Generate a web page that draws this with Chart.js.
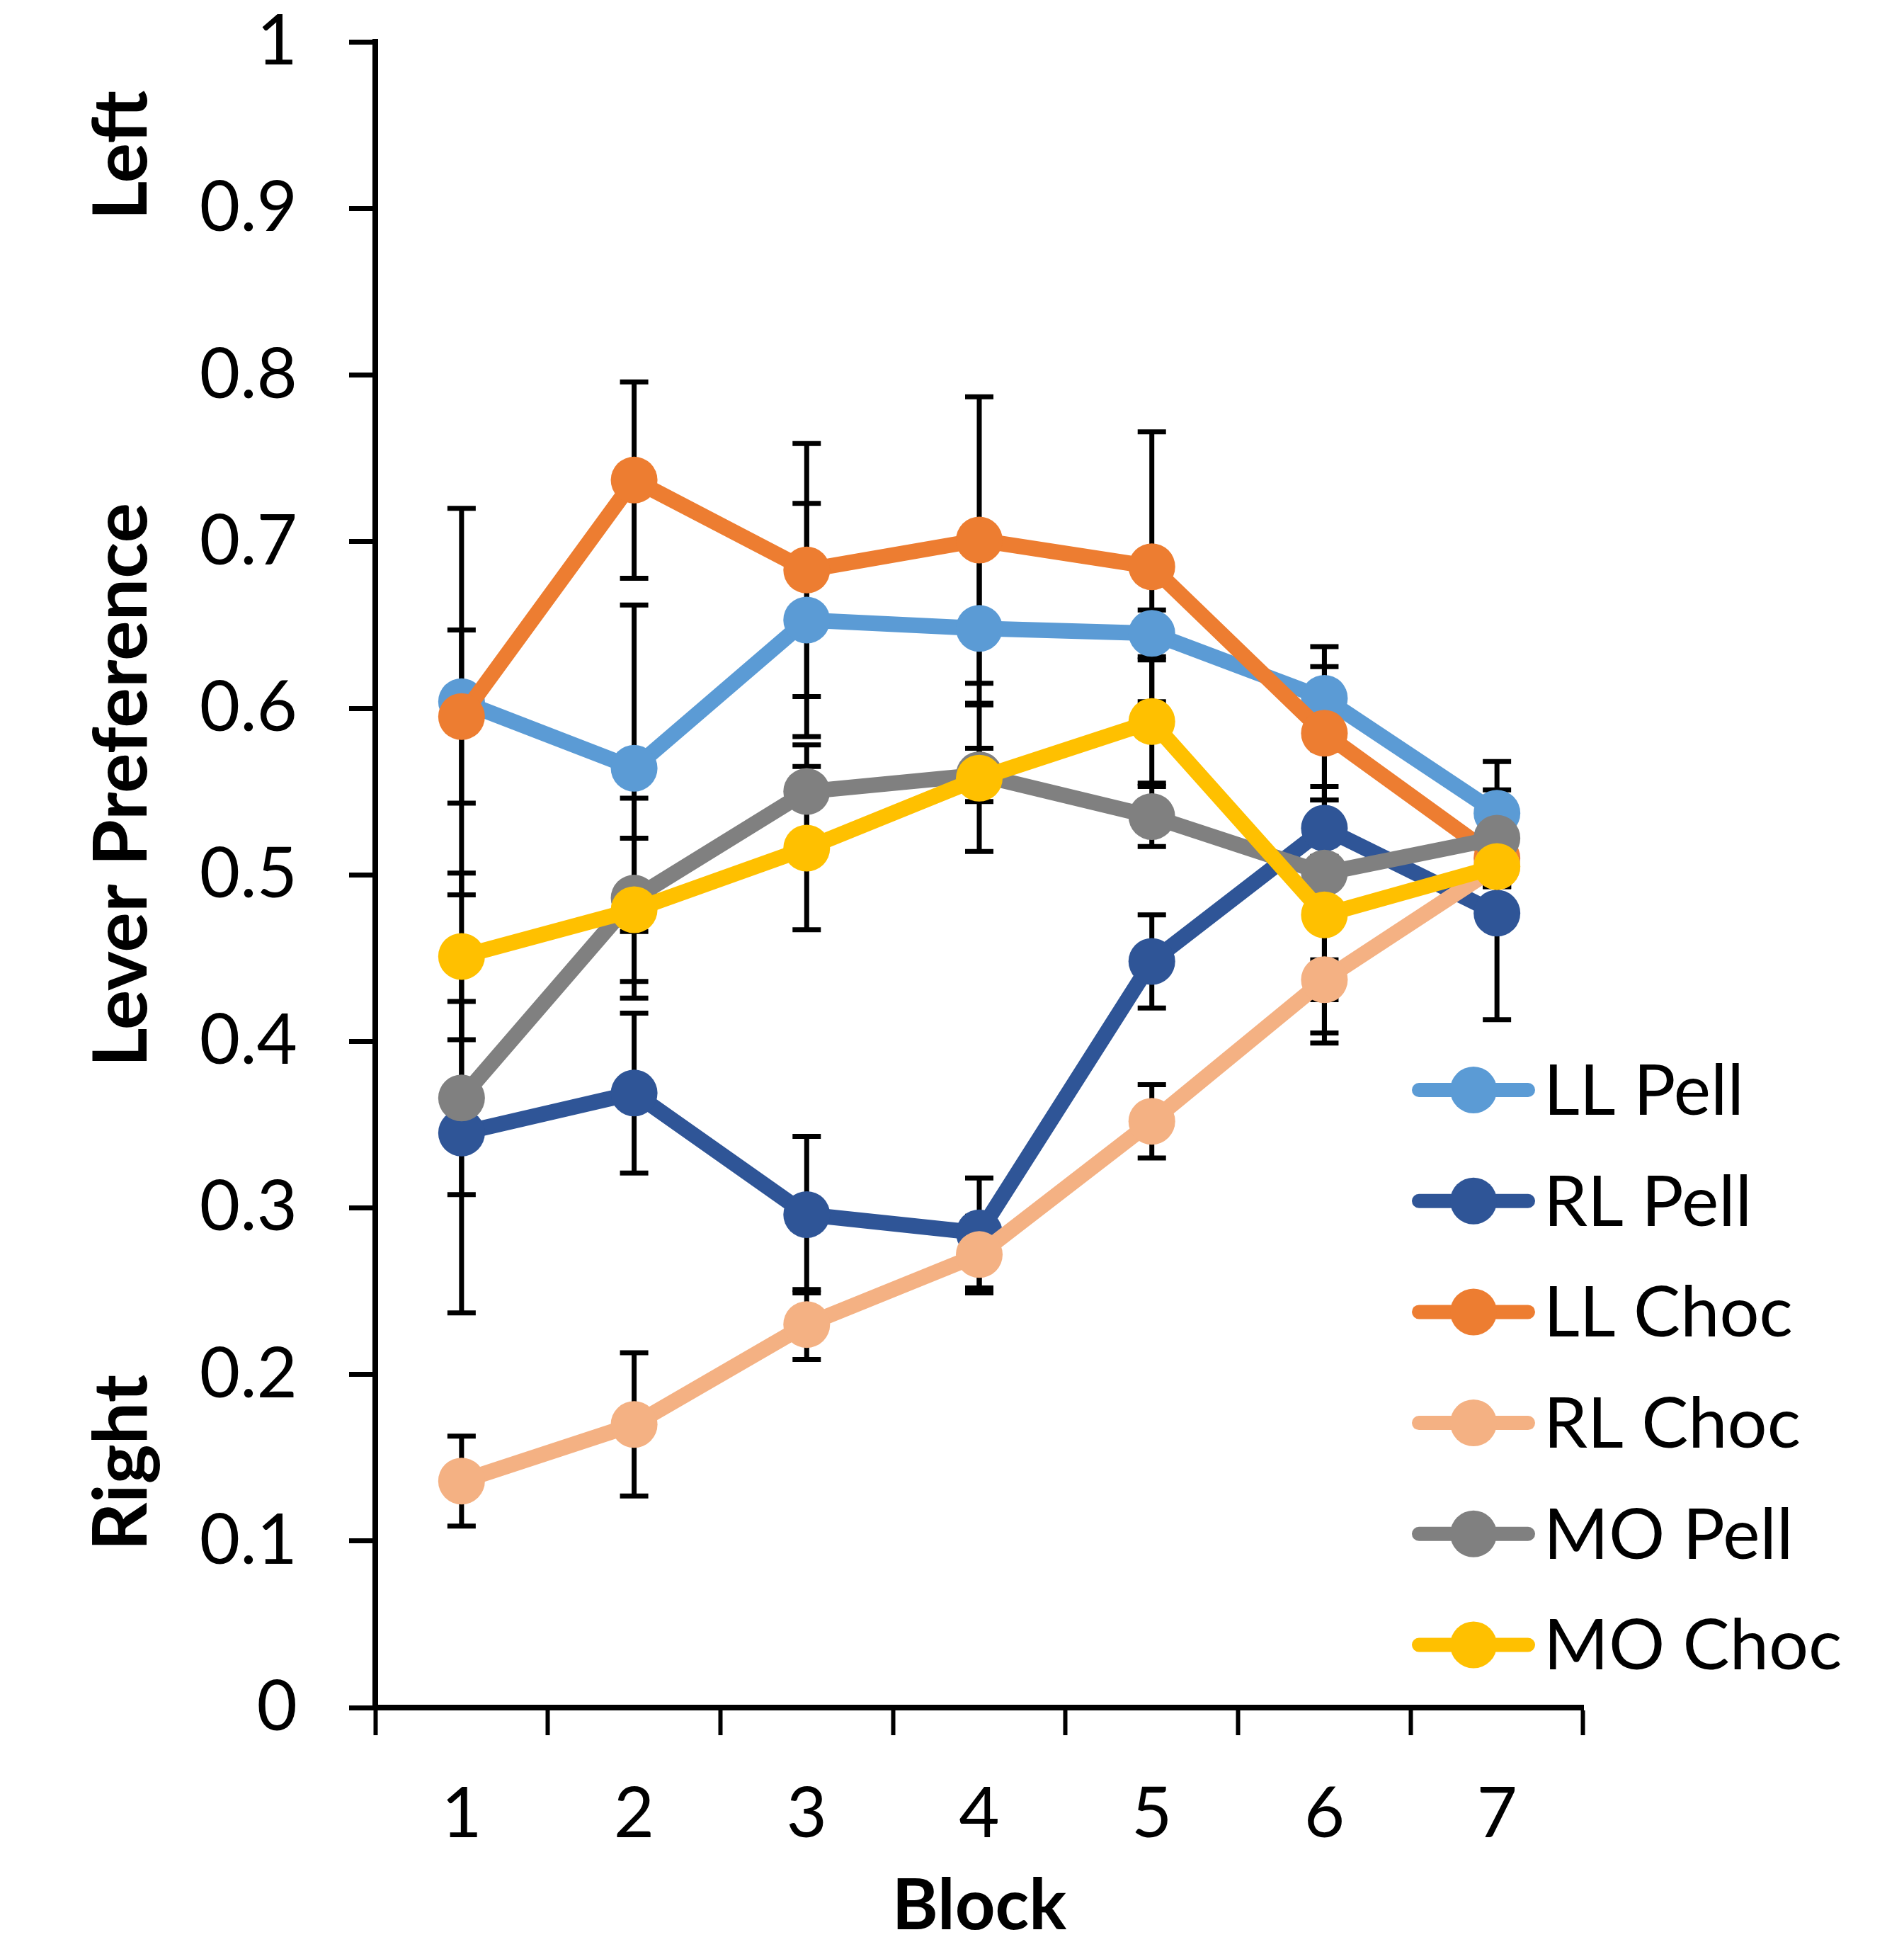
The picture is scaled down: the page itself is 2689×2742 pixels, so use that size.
<!DOCTYPE html>
<html>
<head>
<meta charset="utf-8">
<script src="https://cdn.jsdelivr.net/npm/chart.js@4.4.1/dist/chart.umd.min.js"></script>
<style>
  html, body { margin: 0; padding: 0; background: #ffffff; }
  #wrap { width: 2689px; height: 2742px; }
</style>
</head>
<body>
<div id="wrap"><canvas id="prefChart" width="2689" height="2742"></canvas></div>
<script>
// Categories and tick labels
const blocks = ["1", "2", "3", "4", "5", "6", "7"];
const yTickLabels = ["0", "0.1", "0.2", "0.3", "0.4", "0.5", "0.6", "0.7", "0.8", "0.9", "1"];
const seriesNames = ["LL Pell", "RL Pell", "LL Choc", "RL Choc", "MO Pell", "MO Choc"];

// Series means
const llPell = [0.604, 0.564, 0.653, 0.648, 0.645, 0.606, 0.537];
const rlPell = [0.345, 0.369, 0.296, 0.285, 0.448, 0.528, 0.477];
const llChoc = [0.595, 0.737, 0.683, 0.701, 0.685, 0.585, 0.510];
const rlChoc = [0.136, 0.170, 0.230, 0.272, 0.352, 0.437, 0.505];
const moPell = [0.366, 0.486, 0.550, 0.560, 0.535, 0.501, 0.522];
const moChoc = [0.451, 0.479, 0.516, 0.558, 0.592, 0.476, 0.505];

// Error bar half-widths
const llPellErr = [0.116, 0.098, 0.070, 0.045, 0.014, 0.031, 0.031];
const rlPellErr = [0.108, 0.048, 0.047, 0.033, 0.028, 0.017, 0.064];
const llChocErr = [0.052, 0.059, 0.076, 0.086, 0.081, 0.040, 0.012];
const rlChocErr = [0.027, 0.043, 0.021, 0.023, 0.022, 0.012, 0.012];
const moPellErr = [0.058, 0.060, 0.028, 0.016, 0.018, 0.096, 0.029];
const moChocErr = [0.050, 0.043, 0.049, 0.044, 0.037, 0.077, 0.012];

const seriesValues = [llPell, rlPell, llChoc, rlChoc, moPell, moChoc];
const seriesErrors = [llPellErr, rlPellErr, llChocErr, rlChocErr, moPellErr, moChocErr];
const seriesColors = ["#5B9BD5", "#2F5597", "#ED7D31", "#F4B183", "#808080", "#FFC000"];

const FONT = "Lato";
const FONT_SIZE = 99;

// Error bars, drawn behind the lines
const errorBarPlugin = {
  id: "errorBars",
  beforeDatasetsDraw(chart) {
    const ctx = chart.ctx;
    const yScale = chart.scales.y;
    ctx.save();
    ctx.strokeStyle = "#000000";
    ctx.lineWidth = 7;
    ctx.lineCap = "butt";
    seriesErrors.forEach((errs, i) => {
      const meta = chart.getDatasetMeta(i);
      meta.data.forEach((pt, j) => {
        const v = seriesValues[i][j];
        const yTop = yScale.getPixelForValue(v + errs[j]);
        const yBot = yScale.getPixelForValue(v - errs[j]);
        ctx.beginPath();
        ctx.moveTo(pt.x, yTop);
        ctx.lineTo(pt.x, yBot);
        ctx.moveTo(pt.x - 20, yTop);
        ctx.lineTo(pt.x + 20, yTop);
        ctx.moveTo(pt.x - 20, yBot);
        ctx.lineTo(pt.x + 20, yBot);
        ctx.stroke();
      });
    });
    ctx.restore();
  },
};

// Rotated side labels and the legend inside the plot
const extrasPlugin = {
  id: "extras",
  afterDraw(chart) {
    const ctx = chart.ctx;
    const yScale = chart.scales.y;

    ctx.save();
    ctx.fillStyle = "#000000";
    ctx.font = "bold 106px " + FONT;
    ctx.textAlign = "center";
    ctx.textBaseline = "alphabetic";
    [
      ["Left", 0.932],
      ["Lever Preference", 0.554],
      ["Right", 0.147],
    ].forEach(([txt, v]) => {
      ctx.save();
      ctx.translate(207, yScale.getPixelForValue(v));
      ctx.rotate(-Math.PI / 2);
      ctx.fillText(txt, 0, 0);
      ctx.restore();
    });
    ctx.restore();

    // Legend
    ctx.save();
    ctx.font = FONT_SIZE + "px " + FONT;
    ctx.textAlign = "left";
    ctx.textBaseline = "middle";
    seriesNames.forEach((name, i) => {
      const rowY = 1539 + i * 156.7;
      ctx.strokeStyle = seriesColors[i];
      ctx.lineWidth = 20;
      ctx.lineCap = "round";
      ctx.beginPath();
      ctx.moveTo(2004, rowY);
      ctx.lineTo(2158, rowY);
      ctx.stroke();
      ctx.fillStyle = seriesColors[i];
      ctx.beginPath();
      ctx.arc(2081, rowY, 33, 0, Math.PI * 2);
      ctx.fill();
      ctx.fillStyle = "#000000";
      ctx.fillText(name, 2180, rowY + 3);
    });
    ctx.restore();
  },
};

const datasets = seriesNames.map((name, i) => ({
  label: name,
  data: seriesValues[i],
  borderColor: seriesColors[i],
  backgroundColor: seriesColors[i],
  borderWidth: 22,
  borderJoinStyle: "round",
  borderCapStyle: "round",
  pointRadius: 33,
  pointBorderWidth: 0,
  pointBackgroundColor: seriesColors[i],
  tension: 0,
  fill: false,
  order: seriesNames.length - i, // later series drawn on top
}));

const ctx = document.getElementById("prefChart");

window.prefChart = new Chart(ctx, {
  type: "line",
  data: {
    labels: blocks,
    datasets: datasets,
  },
  plugins: [errorBarPlugin, extrasPlugin],
  options: {
    responsive: false,
    animation: false,
    devicePixelRatio: 1,
    layout: {
      padding: { top: 59.4, right: 453, bottom: 0, left: 0 },
    },
    plugins: {
      legend: { display: false },
      tooltip: { enabled: false },
    },
    scales: {
      x: {
        type: "category",
        offset: true,
        afterFit: (scale) => {
          scale.height = 331;
        },
        grid: {
          display: true,
          offset: true,
          drawOnChartArea: false,
          drawTicks: true,
          tickLength: 39,
          tickWidth: 6,
          tickColor: "#000000",
        },
        border: { display: true, color: "#000000", width: 8 },
        ticks: {
          color: "#000000",
          font: { family: FONT, size: FONT_SIZE },
          padding: 53,
          maxRotation: 0,
        },
        title: {
          display: true,
          text: "Block",
          color: "#000000",
          font: { family: FONT, size: FONT_SIZE, weight: "bold", lineHeight: 1 },
          padding: { top: 0, bottom: 0 },
        },
      },
      y: {
        min: 0,
        max: 1,
        afterFit: (scale) => {
          // fixed axis width, and no extra room above the top label
          scale.width = 530;
          scale.paddingTop = 0;
          scale.paddingBottom = 0;
        },
        grid: {
          display: true,
          drawOnChartArea: false,
          drawTicks: true,
          tickLength: 37,
          tickWidth: 7,
          tickColor: "#000000",
        },
        border: { display: true, color: "#000000", width: 8 },
        ticks: {
          stepSize: 0.1,
          color: "#000000",
          font: { family: FONT, size: FONT_SIZE },
          padding: 73,
          callback: (value, index) => yTickLabels[index],
        },
      },
    },
  },
});
</script>
</body>
</html>
